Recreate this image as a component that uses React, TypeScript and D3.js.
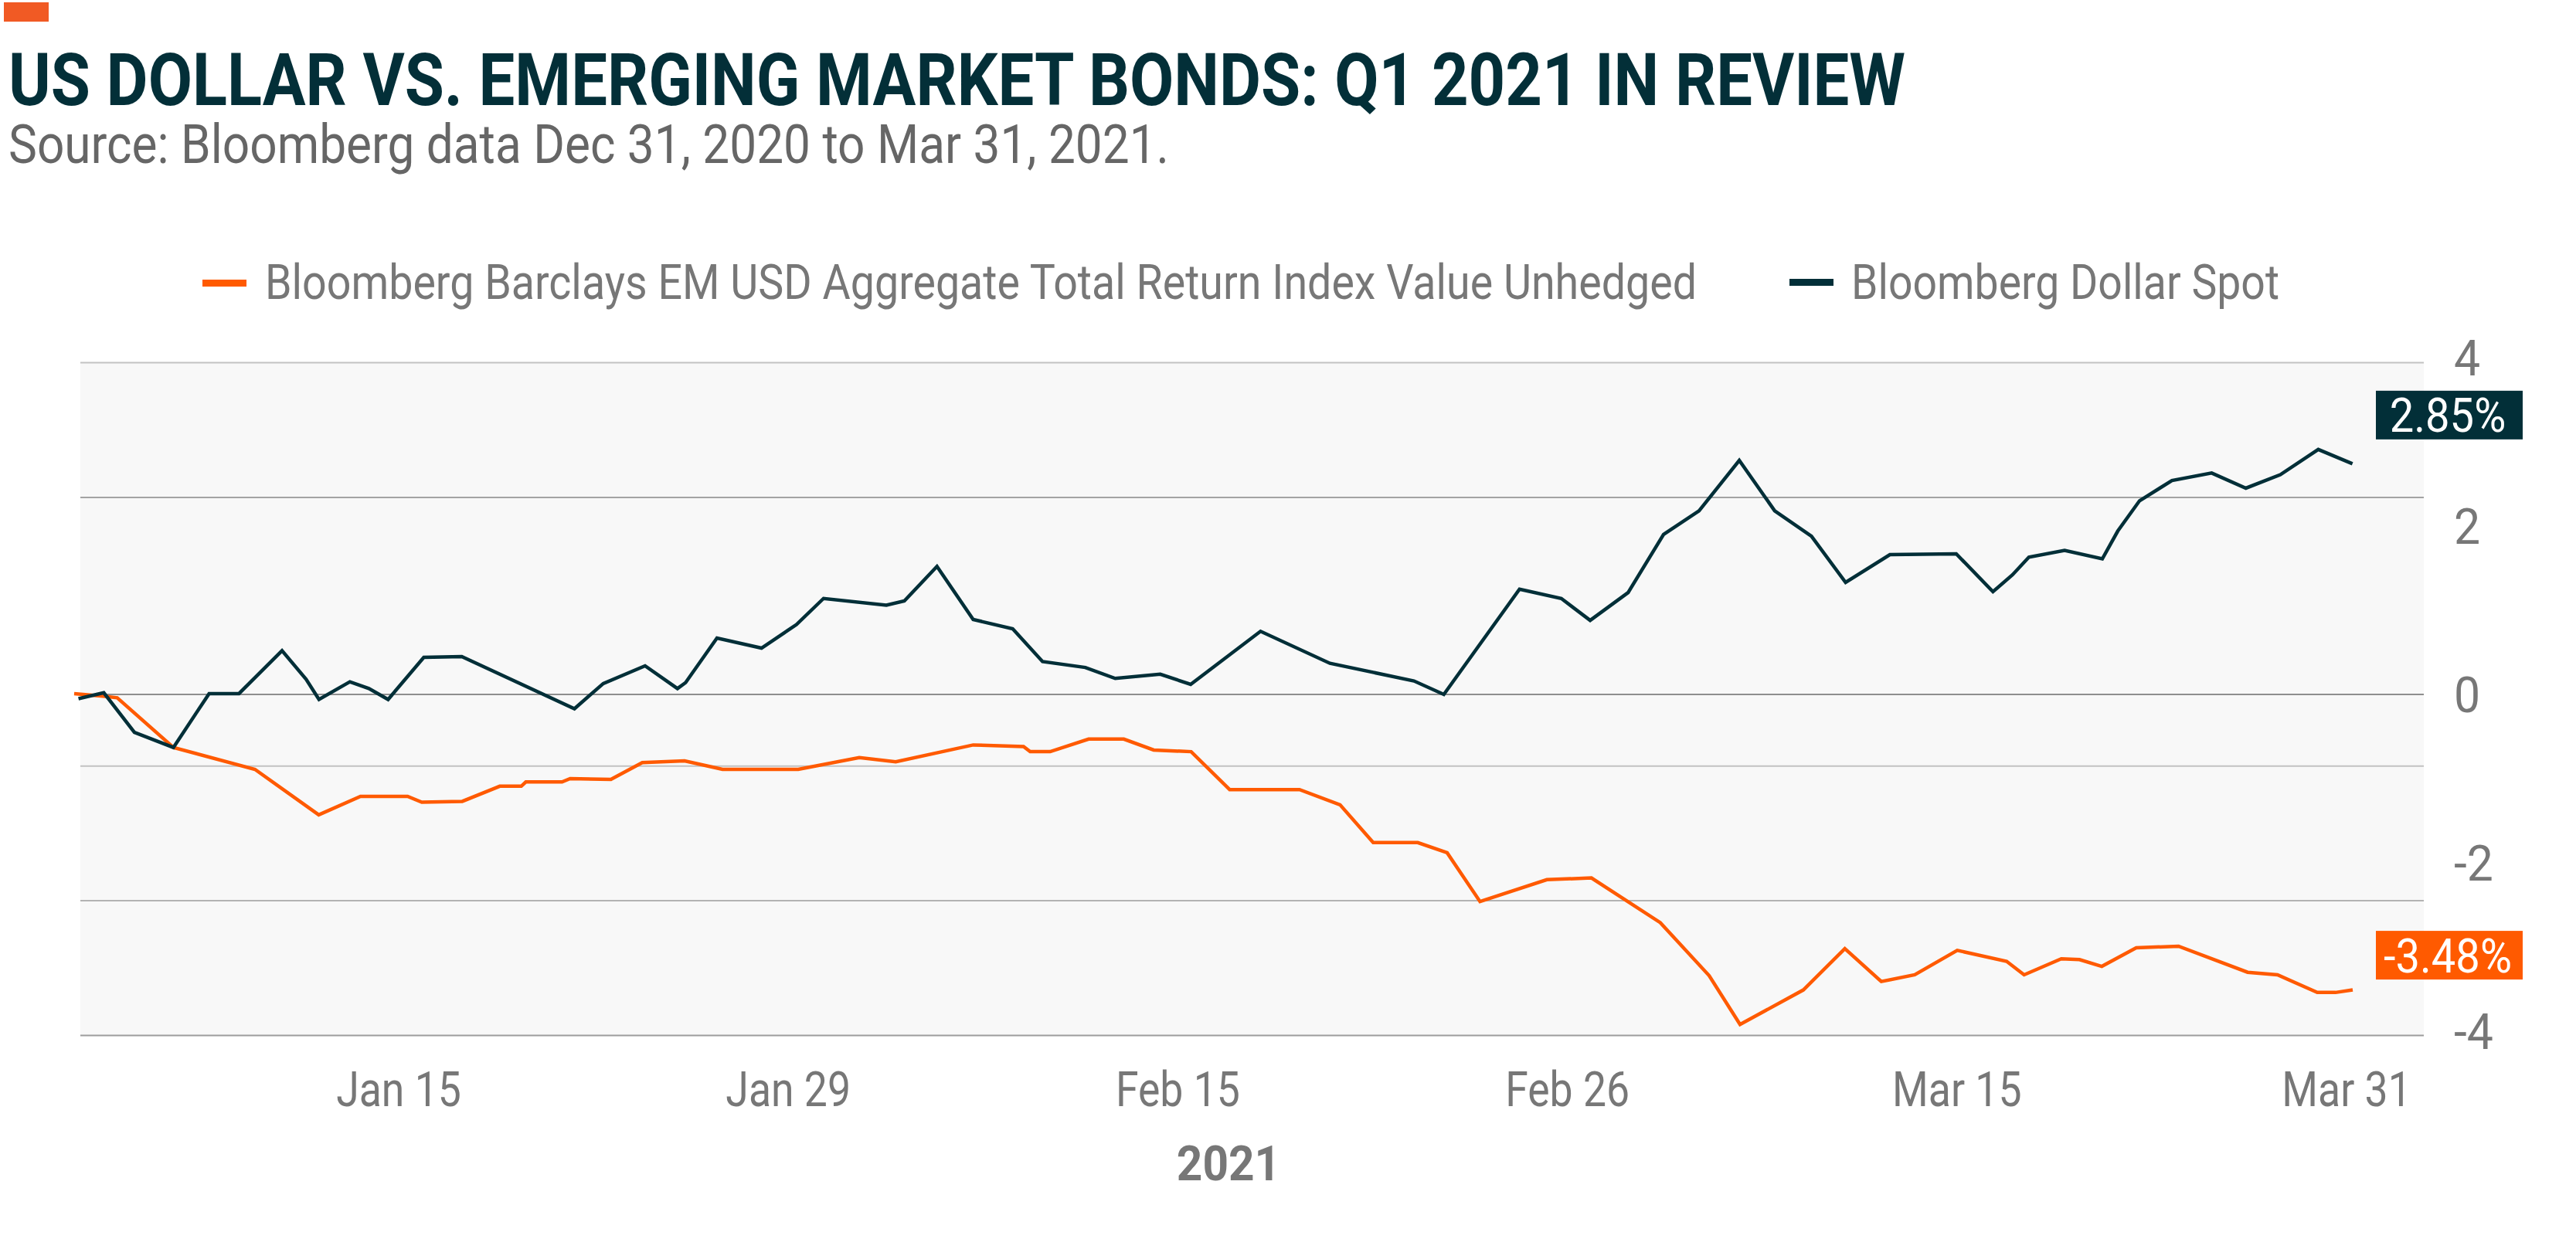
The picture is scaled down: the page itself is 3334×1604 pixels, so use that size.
import React from "react";
import * as d3 from "d3";

// ---------- data ----------
const TITLE = "US DOLLAR VS. EMERGING MARKET BONDS: Q1 2021 IN REVIEW";
const SUBTITLE = "Source: Bloomberg data Dec 31, 2020 to Mar 31, 2021.";
const SERIES_NAMES = [
  "Bloomberg Barclays EM USD Aggregate Total Return Index Value Unhedged",
  "Bloomberg Dollar Spot",
];
const X_TICK_LABELS = ["Jan 15", "Jan 29", "Feb 15", "Feb 26", "Mar 15", "Mar 31"];
const X_AXIS_TITLE = "2021";
const Y_TICKS = [4, 2, 0, -2, -4];
const GRID_VALUES = [3.94, 2.34, 0, -0.85, -2.45, -4.05];
const END_LABELS = ["-3.48%", "2.85%"];

// day offset from Dec 31, 2020 ; value in %
const emDays = [0, 1.14, 1.7, 3.92, 7.14, 9.66, 11.31, 13.17, 13.73, 15.33, 16.81, 17.66, 17.84, 19.27, 19.59, 21.2, 22.44, 24.11, 25.61, 28.6, 31.01, 32.45, 35.51, 37.5, 37.76, 38.55, 40.07, 41.46, 42.64, 44.12, 45.64, 48.4, 50.0, 51.31, 53.07, 54.23, 55.53, 58.17, 59.93, 62.65, 64.58, 65.8, 68.3, 69.94, 71.38, 72.7, 74.38, 76.33, 77.02, 78.49, 79.21, 80.09, 81.45, 83.12, 85.85, 87.03, 88.6, 89.32, 90.0];
const emValues = [0.01, -0.02, -0.04, -0.63, -0.89, -1.43, -1.21, -1.21, -1.28, -1.27, -1.09, -1.09, -1.04, -1.04, -1.0, -1.01, -0.81, -0.79, -0.89, -0.89, -0.75, -0.8, -0.6, -0.62, -0.68, -0.68, -0.53, -0.53, -0.66, -0.68, -1.13, -1.13, -1.31, -1.76, -1.76, -1.88, -2.46, -2.2, -2.18, -2.71, -3.34, -3.92, -3.51, -3.02, -3.41, -3.33, -3.04, -3.17, -3.33, -3.14, -3.15, -3.23, -3.01, -2.99, -3.3, -3.33, -3.54, -3.54, -3.51];

const dxyDays = [0.17, 1.17, 2.38, 3.92, 5.33, 6.51, 8.21, 9.16, 9.67, 10.89, 11.64, 12.4, 13.81, 15.31, 19.76, 20.9, 22.55, 23.83, 24.15, 25.39, 27.15, 28.53, 29.6, 32.08, 32.79, 34.08, 35.51, 37.07, 38.25, 39.94, 41.12, 42.9, 44.1, 46.86, 49.6, 52.92, 54.1, 57.09, 58.74, 59.88, 61.38, 62.78, 64.18, 65.77, 67.17, 68.62, 69.97, 71.72, 74.34, 75.79, 76.56, 77.21, 78.62, 80.11, 80.72, 81.58, 82.86, 84.43, 85.78, 87.14, 88.64, 89.99];
const dxyValues = [-0.05, 0.02, -0.45, -0.63, 0.01, 0.01, 0.52, 0.18, -0.06, 0.15, 0.07, -0.06, 0.44, 0.45, -0.17, 0.13, 0.34, 0.07, 0.14, 0.67, 0.55, 0.83, 1.14, 1.06, 1.11, 1.52, 0.89, 0.78, 0.39, 0.32, 0.19, 0.24, 0.12, 0.75, 0.37, 0.16, 0.0, 1.25, 1.14, 0.88, 1.21, 1.9, 2.18, 2.78, 2.18, 1.88, 1.33, 1.66, 1.67, 1.22, 1.42, 1.63, 1.71, 1.61, 1.94, 2.3, 2.54, 2.63, 2.45, 2.61, 2.91, 2.74];

// ---------- styling ----------
const W = 3334;
const H = 1604;
const ORANGE = "#ff5a00";
const DARK = "#022f38";
const GRAY_TEXT = "#777777";
const FONT = "Roboto, 'Noto Sans', sans-serif";
const GRID_COLORS = ["#c2c2c2", "#a3a3a3", "#8e8e8e", "#c2c2c2", "#b3b3b3", "#9c9c9c"];
const TICK_SQUEEZE = 0.85;

export default function App() {
  const x = d3.scaleLinear().domain([0, 90]).range([96, 3045]);
  const y = d3.scaleLinear().domain([-4, 4]).range([1335, 463]);
  const xTicks = d3.scalePoint<string>().domain(X_TICK_LABELS).range([516, 3037]);

  const line = d3
    .line<[number, number]>()
    .x((d) => x(d[0]))
    .y((d) => y(d[1]));

  const emPts = emDays.map((d, i) => [d, emValues[i]] as [number, number]);
  const dxyPts = dxyDays.map((d, i) => [d, dxyValues[i]] as [number, number]);

  const plotLeft = 104;
  const plotRight = 3137;
  const plotTop = y(GRID_VALUES[0]);
  const plotBottom = y(GRID_VALUES[GRID_VALUES.length - 1]);

  const lastEm = emPts[emPts.length - 1];
  const lastDxy = dxyPts[dxyPts.length - 1];
  const boxW = 190;
  const boxH = 63;
  const boxX = 3075;
  const endBoxes = [
    { text: END_LABELS[0], color: ORANGE, cy: y(lastEm[1]) - 45 },
    { text: END_LABELS[1], color: DARK, cy: y(lastDxy[1]) - 63 },
  ];

  return (
    <svg
      width={W}
      height={H}
      viewBox={`0 0 ${W} ${H}`}
      style={{ position: "absolute", left: 0, top: 0, display: "block", background: "#ffffff" }}
    >
      <rect x={0} y={0} width={W} height={H} fill="#ffffff" />
      {/* top accent */}
      <rect x={5} y={3} width={58} height={25} fill="#f15a24" />
      {/* title */}
      <text
        x={11}
        y={136}
        fontFamily={FONT}
        fontWeight={700}
        fontSize={95}
        fill="#032f38"
        textLength={2455}
        lengthAdjust="spacingAndGlyphs"
      >
        {TITLE}
      </text>
      <text
        x={11}
        y={211}
        fontFamily={FONT}
        fontWeight={400}
        fontSize={71}
        fill="#666666"
        textLength={1502}
        lengthAdjust="spacingAndGlyphs"
      >
        {SUBTITLE}
      </text>

      {/* legend */}
      <rect x={262} y={362} width={57} height={9} fill={ORANGE} />
      <text
        x={343}
        y={386.5}
        fontFamily={FONT}
        fontSize={63}
        fill={GRAY_TEXT}
        textLength={1853}
        lengthAdjust="spacingAndGlyphs"
      >
        {SERIES_NAMES[0]}
      </text>
      <rect x={2316} y={361} width={57} height={9} fill={DARK} />
      <text
        x={2396}
        y={386.5}
        fontFamily={FONT}
        fontSize={63}
        fill={GRAY_TEXT}
        textLength={554}
        lengthAdjust="spacingAndGlyphs"
      >
        {SERIES_NAMES[1]}
      </text>

      {/* plot background */}
      <rect x={plotLeft} y={plotTop} width={plotRight - plotLeft} height={plotBottom - plotTop} fill="#f8f8f8" />

      {/* gridlines */}
      {GRID_VALUES.map((v, i) => (
        <line
          key={"g" + i}
          x1={plotLeft}
          x2={plotRight}
          y1={y(v)}
          y2={y(v)}
          stroke={GRID_COLORS[i]}
          strokeWidth={2}
        />
      ))}

      {/* y tick labels */}
      {Y_TICKS.map((v) => (
        <text
          key={"y" + v}
          transform={`translate(3176,${y(v) + 23}) scale(0.95,1)`}
          fontFamily={FONT}
          fontSize={64}
          fill={GRAY_TEXT}
        >
          {v}
        </text>
      ))}

      {/* x tick labels */}
      {X_TICK_LABELS.map((t) => (
        <text
          key={t}
          transform={`translate(${xTicks(t)},1432) scale(${TICK_SQUEEZE},1)`}
          textAnchor="middle"
          fontFamily={FONT}
          fontSize={63}
          fill={GRAY_TEXT}
        >
          {t}
        </text>
      ))}
      <text
        transform={`translate(1590,1528) scale(0.93,1)`}
        textAnchor="middle"
        fontFamily={FONT}
        fontWeight={700}
        fontSize={63}
        fill={GRAY_TEXT}
      >
        {X_AXIS_TITLE}
      </text>

      {/* series */}
      <path d={line(emPts) || ""} fill="none" stroke={ORANGE} strokeWidth={4.5} strokeLinejoin="miter" />
      <path d={line(dxyPts) || ""} fill="none" stroke={DARK} strokeWidth={4.5} strokeLinejoin="miter" />

      {/* end value labels */}
      {endBoxes.map((b) => (
        <g key={b.text}>
          <rect x={boxX} y={b.cy - boxH / 2} width={boxW} height={boxH} fill={b.color} />
          <text
            transform={`translate(${boxX + boxW / 2 - 2},${b.cy + 22}) scale(0.92,1)`}
            textAnchor="middle"
            fontFamily={FONT}
            fontSize={61}
            fill="#ffffff"
          >
            {b.text}
          </text>
        </g>
      ))}
    </svg>
  );
}
